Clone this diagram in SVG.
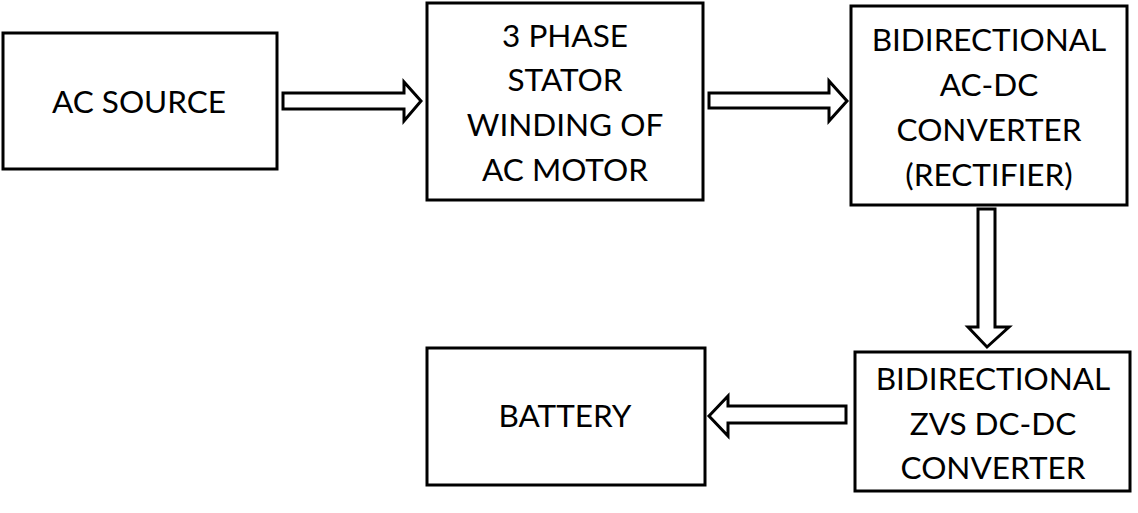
<svg xmlns="http://www.w3.org/2000/svg" width="1138" height="513" viewBox="0 0 1138 513">
<style>
.box{fill:#fff;stroke:#000;stroke-width:3}
.arr{fill:#fff;stroke:#000;stroke-width:3;stroke-linejoin:miter}
text{font-family:Lato,"Open Sans","Liberation Sans",sans-serif;font-size:31.5px;fill:#000;text-anchor:middle}
</style>
<rect width="1138" height="513" fill="#fff"/>
<g id="connectors">
<polygon class="arr" points="283,93 404,93 404,82 421,101 404,121 404,109 283,109"/>
<polygon class="arr" points="709,93 829,93 829,81 847,101 829,121 829,108 709,108"/>
<polygon class="arr" points="978,209 995,209 995,327 1009,327 987,347 968,327 978,327"/>
<polygon class="arr" points="846,406 728,406 728,396 709,416 728,436 728,423 846,423"/>
</g>
<g id="ac-source">
<rect class="box" x="3" y="33" width="274" height="136"/>
<text x="139" y="113">AC SOURCE</text>
</g>
<g id="stator">
<rect class="box" x="427" y="3" width="276" height="197"/>
<text x="565" y="47">3 PHASE</text>
<text x="565" y="91">STATOR</text>
<text x="565" y="136">WINDING OF</text>
<text x="565" y="181">AC MOTOR</text>
</g>
<g id="rectifier">
<rect class="box" x="851" y="6" width="276" height="199"/>
<text x="989" y="51">BIDIRECTIONAL</text>
<text x="989" y="96">AC-DC</text>
<text x="989" y="141">CONVERTER</text>
<text x="989" y="186">(RECTIFIER)</text>
</g>
<g id="battery">
<rect class="box" x="427" y="348" width="278" height="137"/>
<text x="565" y="427">BATTERY</text>
</g>
<g id="dcdc">
<rect class="box" x="855" y="352" width="275" height="139"/>
<text x="993" y="390">BIDIRECTIONAL</text>
<text x="993" y="435">ZVS DC-DC</text>
<text x="993" y="479">CONVERTER</text>
</g>
</svg>
